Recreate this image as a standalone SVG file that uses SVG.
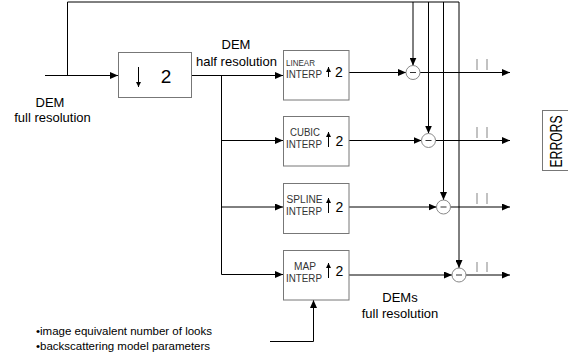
<svg xmlns="http://www.w3.org/2000/svg" width="568" height="356" viewBox="0 0 568 356">
<style>
.t{font-family:"Liberation Sans",Arial,sans-serif;fill:#000}
.s{font-family:"Liberation Sans",Arial,sans-serif;fill:#333}
.box{fill:#fff;stroke:#777;stroke-width:1}
.ln{fill:none;stroke:#000;stroke-width:1}
.cir{fill:#fff;stroke:#888;stroke-width:1}
.mk{stroke:#999;stroke-width:1.2}
</style>
<defs>
<marker id="ah" markerUnits="userSpaceOnUse" markerWidth="8" markerHeight="7" refX="8" refY="3.5" orient="auto">
<path d="M0,0 L8,3.5 L0,7 z" fill="#000"/>
</marker>
<marker id="sa" markerUnits="userSpaceOnUse" markerWidth="5" markerHeight="6" refX="5" refY="2.5" orient="auto">
<path d="M0,0 L5,2.5 L0,5 z" fill="#000"/>
</marker>
</defs>
<g id="connectors">
<path class="ln" d="M45,75.5 H118" marker-end="url(#ah)"/>
<path class="ln" d="M67.5,75.5 V2 H459"/>
<path class="ln" d="M191.5,75.5 H283" marker-end="url(#ah)"/>
<path class="ln" d="M221.5,75.5 V274.5 H283" marker-end="url(#ah)"/>
<path class="ln" d="M221.5,140.5 H283" marker-end="url(#ah)"/>
<path class="ln" d="M221.5,207 H283" marker-end="url(#ah)"/>
<path class="ln" d="M349,72.5 H406" marker-end="url(#ah)"/>
<path class="ln" d="M349,140.5 H421.5" marker-end="url(#ah)"/>
<path class="ln" d="M349,207 H436.5" marker-end="url(#ah)"/>
<path class="ln" d="M349,275 H452" marker-end="url(#ah)"/>
<path class="ln" d="M413,2 V65.5" marker-end="url(#ah)"/>
<path class="ln" d="M428.5,2 V133.5" marker-end="url(#ah)"/>
<path class="ln" d="M443.5,2 V200" marker-end="url(#ah)"/>
<path class="ln" d="M459,2 V268" marker-end="url(#ah)"/>
<path class="ln" d="M420,72.5 H510" marker-end="url(#ah)"/>
<path class="ln" d="M435.5,140.5 H510" marker-end="url(#ah)"/>
<path class="ln" d="M450.5,207 H510" marker-end="url(#ah)"/>
<path class="ln" d="M466,275 H510" marker-end="url(#ah)"/>
<path class="ln" d="M270,341.5 H313.5 V300" marker-end="url(#ah)"/>
<g class="mk">
<line x1="477" y1="59" x2="477" y2="70"/><line x1="487" y1="59" x2="487" y2="70"/>
<line x1="477" y1="127" x2="477" y2="138"/><line x1="487" y1="127" x2="487" y2="138"/>
<line x1="477" y1="193" x2="477" y2="204"/><line x1="487" y1="193" x2="487" y2="204"/>
<line x1="477" y1="262" x2="477" y2="272"/><line x1="487" y1="262" x2="487" y2="272"/>
</g>
</g>
<g id="downsample">
<rect class="box" x="118.5" y="52.5" width="73" height="45"/>
<path class="ln" d="M138.5,67 V87" marker-end="url(#sa)"/>
<text class="t" x="166" y="83" font-size="19" text-anchor="middle">2</text>
</g>
<g id="linear">
<rect class="box" x="283.5" y="50.5" width="65.5" height="49.5"/>
<text class="s" x="286" y="66" font-size="9" textLength="29" lengthAdjust="spacingAndGlyphs">LINEAR</text>
<text class="s" x="286" y="77.5" font-size="10" textLength="36" lengthAdjust="spacingAndGlyphs">INTERP</text>
<path class="ln" d="M328.5,77 V67" marker-end="url(#sa)"/>
<text class="t" x="335" y="77" font-size="14">2</text>
</g>
<g id="cubic">
<rect class="box" x="283.5" y="116.5" width="65.5" height="49.5"/>
<text class="s" x="290" y="135.5" font-size="10" textLength="30" lengthAdjust="spacingAndGlyphs">CUBIC</text>
<text class="s" x="286" y="147.5" font-size="10" textLength="36" lengthAdjust="spacingAndGlyphs">INTERP</text>
<path class="ln" d="M328.5,147 V132" marker-end="url(#sa)"/>
<text class="t" x="335.5" y="145.5" font-size="14">2</text>
</g>
<g id="spline">
<rect class="box" x="283.5" y="183.5" width="65.5" height="50"/>
<text class="s" x="286.5" y="203" font-size="10" textLength="36" lengthAdjust="spacingAndGlyphs">SPLINE</text>
<text class="s" x="286" y="215" font-size="10" textLength="36" lengthAdjust="spacingAndGlyphs">INTERP</text>
<path class="ln" d="M328.5,213 V198" marker-end="url(#sa)"/>
<text class="t" x="335.5" y="212" font-size="14">2</text>
</g>
<g id="map">
<rect class="box" x="283.5" y="250.5" width="65.5" height="49.5"/>
<text class="s" x="294" y="269.5" font-size="10" textLength="22" lengthAdjust="spacingAndGlyphs">MAP</text>
<text class="s" x="286" y="282" font-size="10" textLength="36" lengthAdjust="spacingAndGlyphs">INTERP</text>
<path class="ln" d="M328.5,278 V263" marker-end="url(#sa)"/>
<text class="t" x="335.5" y="276" font-size="14">2</text>
</g>
<g id="sub1"><circle class="cir" cx="413" cy="72.5" r="7"/><line x1="410" y1="72.5" x2="416" y2="72.5" stroke="#333"/></g>
<g id="sub2"><circle class="cir" cx="428.5" cy="140.5" r="7"/><line x1="425.5" y1="140.5" x2="431.5" y2="140.5" stroke="#333"/></g>
<g id="sub3"><circle class="cir" cx="443.5" cy="207" r="7"/><line x1="440.5" y1="207" x2="446.5" y2="207" stroke="#333"/></g>
<g id="sub4"><circle class="cir" cx="459" cy="275" r="7"/><line x1="456" y1="275" x2="462" y2="275" stroke="#333"/></g>
<g id="errors">
<rect class="box" x="542.5" y="110.5" width="32" height="60"/>
<text class="t" transform="translate(561.5,141.5) rotate(-90)" font-size="17" text-anchor="middle" textLength="52" lengthAdjust="spacingAndGlyphs">ERRORS</text>
</g>
<g id="labels">
<text class="t" x="50" y="107" font-size="13" text-anchor="middle">DEM</text>
<text class="t" x="52.5" y="121.5" font-size="13" text-anchor="middle">full resolution</text>
<text class="t" x="236" y="49" font-size="13" text-anchor="middle">DEM</text>
<text class="t" x="236.5" y="66" font-size="13" text-anchor="middle">half resolution</text>
<text class="t" x="400" y="301.5" font-size="13" text-anchor="middle">DEMs</text>
<text class="t" x="400" y="318" font-size="13" text-anchor="middle">full resolution</text>
<text class="t" x="36" y="335" font-size="11.5">•image equivalent number of looks</text>
<text class="t" x="36" y="350" font-size="11.5">•backscattering model parameters</text>
</g>
</svg>
